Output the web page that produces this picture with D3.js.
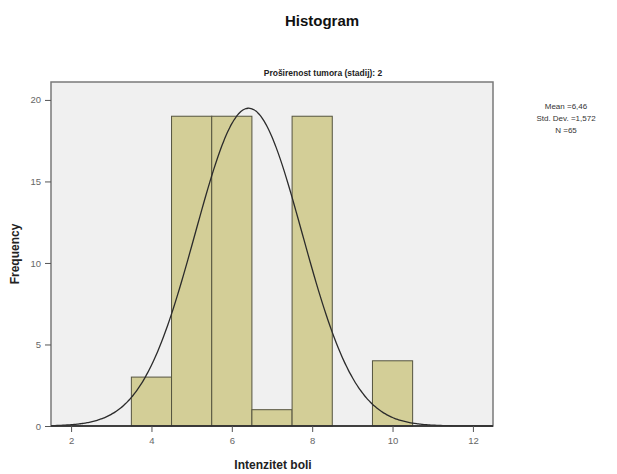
<!DOCTYPE html>
<html><head><meta charset="utf-8">
<script src="https://cdn.jsdelivr.net/npm/d3@7"></script>
<style>body{margin:0;background:#fff}svg{display:block}text{font-family:Arial,"Liberation Sans",sans-serif}</style>
</head><body>
<script>
const binStarts = [3.5, 4.5, 5.5, 6.5, 7.5, 8.5, 9.5];
const binEnds   = [4.5, 5.5, 6.5, 7.5, 8.5, 9.5, 10.5];
const frequencies = [3, 19, 19, 1, 19, 0, 4];
const xTicks = [2, 4, 6, 8, 10, 12];
const yTicks = [0, 5, 10, 15, 20];
const statLabels = ["Mean =6,46", "Std. Dev. =1,572", "N =65"];
const curveMean = 6.42, curveSd = 1.33, curveN = 65;

const W = 617, H = 474;
const m = {l: 51, r: 493, t: 82, b: 426};
const svg = d3.select("body").append("svg").attr("width", W).attr("height", H);
const x = d3.scaleLinear().domain([1.5, 12.5]).range([m.l, m.r]);
const y = d3.scaleLinear().domain([0, 21.1]).range([m.b, m.t]);

svg.append("text").attr("x", 322).attr("y", 26).attr("text-anchor", "middle")
  .attr("font-size", 15).attr("font-weight", "bold").attr("fill", "#111").text("Histogram");
svg.append("text").attr("x", 323).attr("y", 76).attr("text-anchor", "middle")
  .attr("font-size", 8.5).attr("font-weight", "bold").attr("fill", "#222").text("Proširenost tumora (stadij): 2");

svg.append("rect").attr("x", m.l).attr("y", m.t).attr("width", m.r - m.l).attr("height", m.b - m.t)
  .attr("fill", "#f0f0f0");

const data = frequencies.map((f, i) => ({x0: binStarts[i], x1: binEnds[i], f}));
svg.append("g").selectAll("rect").data(data.filter(d => d.f > 0)).join("rect")
  .attr("x", d => x(d.x0)).attr("y", d => y(d.f))
  .attr("width", d => x(d.x1) - x(d.x0)).attr("height", d => y(0) - y(d.f))
  .attr("fill", "#d3ce97").attr("stroke", "#55543f").attr("stroke-width", 1);

const pts = d3.range(1.5, 12.5001, 0.05).map(v => [v,
  curveN / (curveSd * Math.sqrt(2 * Math.PI)) * Math.exp(-((v - curveMean) ** 2) / (2 * curveSd * curveSd))]);
svg.append("path").datum(pts).attr("fill", "none").attr("stroke", "#2b2b2b").attr("stroke-width", 1.3)
  .attr("d", d3.line().x(d => x(d[0])).y(d => y(d[1])).curve(d3.curveBasis));

svg.append("rect").attr("x", m.l).attr("y", m.t).attr("width", m.r - m.l).attr("height", m.b - m.t)
  .attr("fill", "none").attr("stroke", "#7a7a7a").attr("stroke-width", 1.5);
svg.append("line").attr("x1", m.l).attr("x2", m.r).attr("y1", m.b).attr("y2", m.b)
  .attr("stroke", "#222").attr("stroke-width", 1.5);

const xa = svg.append("g").attr("transform", `translate(0,${m.b})`)
  .call(d3.axisBottom(x).tickValues(xTicks).tickSize(6).tickSizeOuter(0).tickPadding(5));
xa.select(".domain").remove();
xa.selectAll("line").attr("stroke", "#555");
xa.selectAll("text").attr("font-size", 9.5).attr("fill", "#666").attr("font-family", "Arial");

const ya = svg.append("g").attr("transform", `translate(${m.l},0)`)
  .call(d3.axisLeft(y).tickValues(yTicks).tickSize(6).tickSizeOuter(0).tickPadding(4));
ya.select(".domain").remove();
ya.selectAll("line").attr("stroke", "#555");
ya.selectAll("text").attr("font-size", 9.5).attr("fill", "#666").attr("font-family", "Arial");

svg.append("text").attr("transform", "translate(19,254) rotate(-90)").attr("text-anchor", "middle")
  .attr("font-size", 12).attr("font-weight", "bold").attr("fill", "#222").text("Frequency");
svg.append("text").attr("x", 273).attr("y", 469).attr("text-anchor", "middle")
  .attr("font-size", 12).attr("font-weight", "bold").attr("fill", "#222").text("Intenzitet boli");

svg.append("g").selectAll("text").data(statLabels).join("text")
  .attr("x", 566).attr("y", (d, i) => 109 + i * 12).attr("text-anchor", "middle")
  .attr("font-size", 8).attr("fill", "#333").text(d => d);
</script>
</body></html>
